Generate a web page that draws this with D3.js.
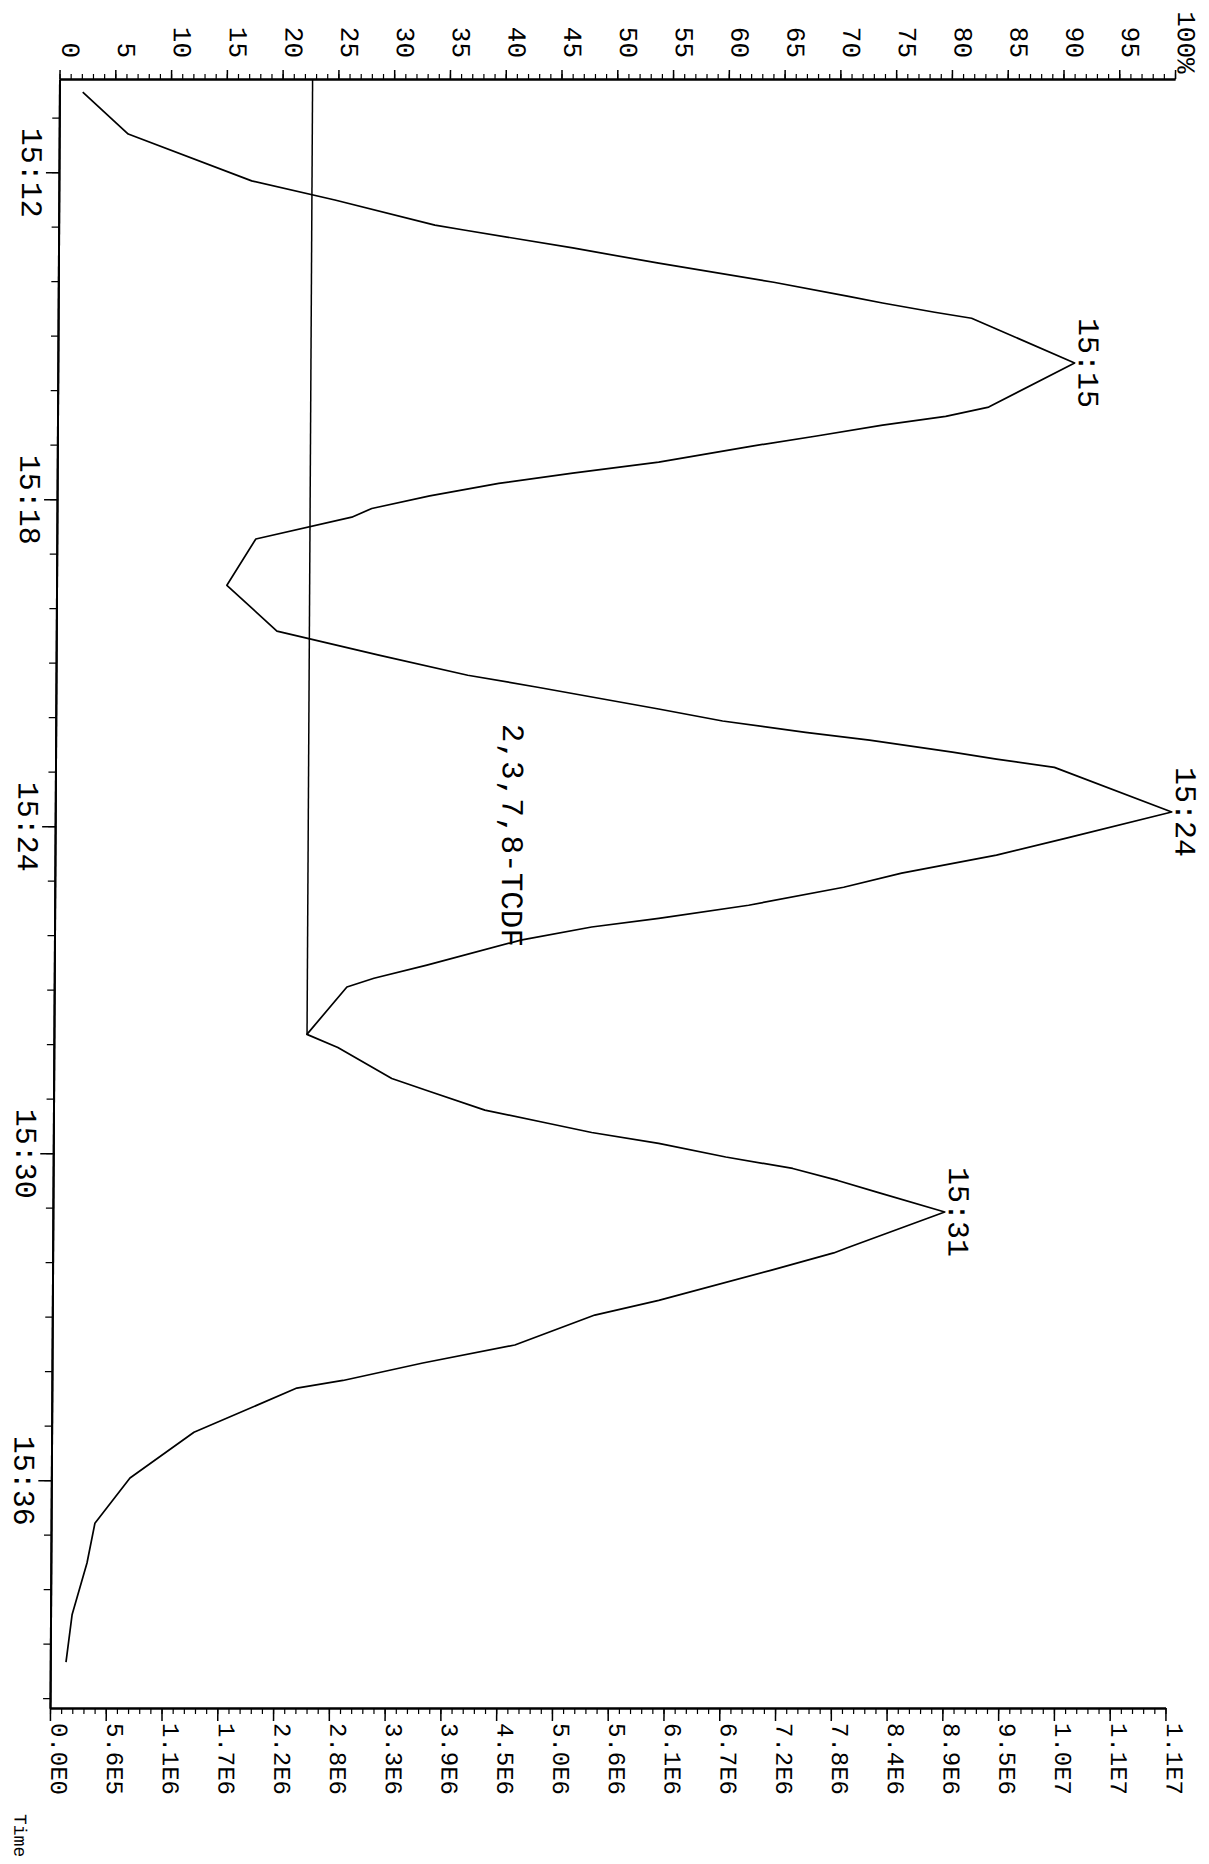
<!DOCTYPE html>
<html>
<head>
<meta charset="utf-8">
<script src="https://cdn.jsdelivr.net/npm/d3@7"></script>
<style>
  html, body { margin: 0; padding: 0; background: #fff; }
  svg { display: block; }
  text { font-family: "Liberation Mono", "DejaVu Sans Mono", monospace; fill: #000; }
</style>
</head>
<body>
<script>
// ---- data (time in seconds: 912 = 15:12) ----
const times = [910.53, 911.30, 912.16, 912.51, 912.97, 913.06, 913.39, 913.67, 914.02, 914.28,
  914.40, 914.57, 914.68, 915.50, 916.31, 916.48, 916.64, 916.84, 917.03, 917.32,
  917.52, 917.71, 917.94, 918.17, 918.33, 918.73, 919.58, 920.42, 920.86, 921.23,
  921.45, 921.85, 922.07, 922.28, 922.42, 922.64, 922.77, 922.92, 923.74, 924.22,
  924.53, 924.86, 925.12, 925.45, 925.69, 925.85, 926.09, 926.55, 926.79, 926.95,
  927.82, 928.06, 928.63, 928.85, 929.21, 929.45, 929.62, 929.82, 930.07, 930.28,
  930.50, 930.72, 931.08, 931.74, 931.83, 932.15, 932.70, 932.97, 933.52, 933.85,
  934.17, 934.31, 935.12, 935.96, 936.79, 937.52, 938.47, 939.34];
const intensityPct = [2.0, 6.10, 17.19, 24.66, 33.64, 36.24, 46.01, 53.72, 64.04, 70.76,
  73.81, 78.49, 81.80, 91.06, 83.38, 79.53, 73.88, 67.97, 62.06, 53.83,
  46.12, 39.50, 33.32, 28.13, 26.34, 17.75, 15.18, 19.69, 28.84, 36.82,
  43.09, 53.95, 59.69, 67.13, 72.87, 80.31, 84.26, 89.46, 100, 90.57,
  84.31, 75.82, 70.63, 62.12, 54.07, 48.06, 41.71, 33.31, 28.57, 26.15,
  22.59, 25.37, 30.22, 33.37, 38.58, 44.23, 48.17, 54.18, 60.20, 66.21,
  70.25, 73.84, 79.86, 71.09, 69.93, 64.29, 54.27, 48.54, 41.39, 33.15,
  26.0, 21.87, 12.67, 6.96, 3.84, 3.15, 1.84, 1.32];

const peakTimes = [915.50, 923.74, 931.08];
const peakPct = [91.06, 100, 79.86];
const peakLabels = ["15:15", "15:24", "15:31"];

const compoundName = "2,3,7,8-TCDF";
const compoundTime = 924.17;
const compoundPct = 40.0;

const baselineLevel = 22.6;        // % level of integration baseline
const baselineEndTime = 927.82;    // ends at the valley

const timeDomain = [910.29, 940.18];
const timeMinorTicks = d3.range(911, 941);
const timeMajorTicks = [912, 918, 924, 930, 936];
const timeTickLabels = ["15:12", "15:18", "15:24", "15:30", "15:36"];

const pctMinorTicks = d3.range(0, 101);
const pctMajorTicks = d3.range(0, 101, 5);
const pctTickLabels = ["0","5","10","15","20","25","30","35","40","45","50",
  "55","60","65","70","75","80","85","90","95","100%"];

const maxAbs = 1.115e7;
const absTickLabels = ["0.0E0","5.6E5","1.1E6","1.7E6","2.2E6","2.8E6","3.3E6","3.9E6",
  "4.5E6","5.0E6","5.6E6","6.1E6","6.7E6","7.2E6","7.8E6","8.4E6","8.9E6","9.5E6",
  "1.0E7","1.1E7","1.1E7"];

const axisTitle = "Time";

// ---- drawing ----
const W = 1209, H = 1864;
const svg = d3.select("body").append("svg").attr("width", W).attr("height", H);
svg.append("rect").attr("width", W).attr("height", H).attr("fill", "#fff");

// scanned page is slightly sheared; chart drawn in landscape then turned 90° clockwise
const outer = svg.append("g").attr("transform", "translate(0.46,0) skewX(-0.334)");
const g = outer.append("g").attr("transform", `translate(${W},0) rotate(90)`);

const x = d3.scaleLinear().domain(timeDomain).range([79, 1708]);
const y = d3.scaleLinear().domain([0, 100]).range([1148.5, 33]);
const yAbs = d3.scaleLinear().domain([0, maxAbs]).range([1148.5, 33]);

function styleAxis(sel, width) {
  sel.select(".domain").attr("stroke", "#000").attr("stroke-width", 2);
  sel.selectAll(".tick line").attr("stroke", "#000").attr("stroke-width", width);
}

// time axis (bottom in landscape)
const tMinor = g.append("g").attr("transform", `translate(0,${y(0)})`)
  .call(d3.axisBottom(x).tickValues(timeMinorTicks).tickSize(8).tickSizeOuter(0).tickFormat(""));
styleAxis(tMinor, 1.3);
const tMajor = g.append("g").attr("transform", `translate(0,${y(0)})`)
  .call(d3.axisBottom(x).tickValues(timeMajorTicks).tickSize(14).tickSizeOuter(0)
    .tickFormat((d, i) => timeTickLabels[i]));
styleAxis(tMajor, 1.6);
tMajor.selectAll(".tick text").attr("y", 38).attr("dy", null)
  .attr("font-size", 30).attr("font-family", null).attr("fill", "#000");
tMajor.append("text").attr("x", 1814).attr("y", 36)
  .attr("text-anchor", "start").attr("font-size", 18)
  .text(axisTitle);

// percent axis (left in landscape)
const pMinor = g.append("g").attr("transform", `translate(${x.range()[0]},0)`)
  .call(d3.axisLeft(y).tickValues(pctMinorTicks).tickSize(5).tickSizeOuter(0).tickFormat(""));
styleAxis(pMinor, 1.2);
const pMajor = g.append("g").attr("transform", `translate(${x.range()[0]},0)`)
  .call(d3.axisLeft(y).tickValues(pctMajorTicks).tickSize(9).tickSizeOuter(0)
    .tickFormat((d, i) => pctTickLabels[i]));
styleAxis(pMajor, 1.5);
const pctFont = 26, pctAdvance = pctFont * 0.6;
pMajor.selectAll(".tick text")
  .attr("x", (d, i) => -21 + (pctTickLabels[i].endsWith("%") ? pctAdvance : 0))
  .attr("y", -2).attr("dy", null)
  .attr("font-size", pctFont).attr("font-family", null).attr("fill", "#000");

// absolute axis (right in landscape)
const aMinor = g.append("g").attr("transform", `translate(${x.range()[1]},0)`)
  .call(d3.axisRight(yAbs).tickValues(pctMinorTicks.map(p => p / 100 * maxAbs))
    .tickSize(6).tickSizeOuter(0).tickFormat(""));
styleAxis(aMinor, 1.2);
const aMajor = g.append("g").attr("transform", `translate(${x.range()[1]},0)`)
  .call(d3.axisRight(yAbs).tickValues(d3.range(0, 21).map(i => i * maxAbs / 20))
    .tickSize(13).tickSizeOuter(0).tickFormat((d, i) => absTickLabels[i]));
styleAxis(aMajor, 1.5);
aMajor.selectAll(".tick text").attr("x", 15).attr("y", -1).attr("dy", null)
  .attr("font-size", 24).attr("font-family", null).attr("fill", "#000");

// integration baseline
g.append("line")
  .attr("x1", x(timeDomain[0])).attr("x2", x(baselineEndTime))
  .attr("y1", y(baselineLevel)).attr("y2", y(baselineLevel))
  .attr("stroke", "#000").attr("stroke-width", 1.5);

// trace
const pts = d3.zip(times, intensityPct);
g.append("path").datum(pts)
  .attr("fill", "none").attr("stroke", "#000").attr("stroke-width", 1.7)
  .attr("stroke-linejoin", "round")
  .attr("d", d3.line().x(d => x(d[0])).y(d => y(d[1])));

// peak labels
g.selectAll(".peak").data(d3.zip(peakTimes, peakPct, peakLabels)).join("text")
  .attr("class", "peak")
  .attr("x", d => x(d[0])).attr("y", d => y(d[1]) - 4)
  .attr("text-anchor", "middle").attr("font-size", 30)
  .text(d => d[2]);

// compound label
g.append("text").attr("x", x(compoundTime)).attr("y", y(compoundPct))
  .attr("text-anchor", "middle").attr("font-size", 31).text(compoundName);
</script>
</body>
</html>
